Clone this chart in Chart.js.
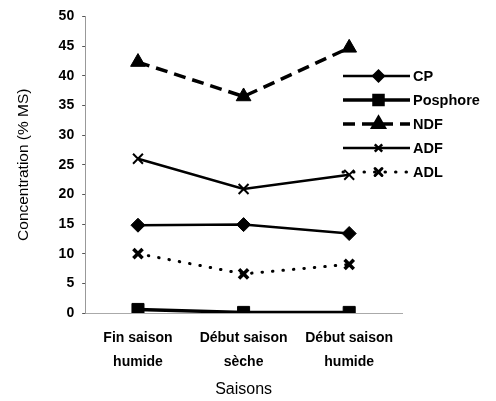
<!DOCTYPE html>
<html>
<head>
<meta charset="utf-8">
<script src="https://cdn.jsdelivr.net/npm/chart.js@4/dist/chart.umd.min.js"></script>
<style>
    html, body { margin: 0; padding: 0; background: #fff; }
    #wrap { width: 496px; height: 401px; }
</style>
</head>
<body>
<div id="wrap"><canvas id="chart"></canvas></div>
<script>
// Data
const saisons = [['Fin saison', 'humide'], ['Début saison', 'sèche'], ['Début saison', 'humide']];
const cp = [14.8, 14.9, 13.4];
const phosphore = [0.6, 0.1, 0.1];
const ndf = [42.3, 36.5, 44.7];
const adf = [26.0, 20.9, 23.3];
const adl = [10.0, 6.6, 8.2];

const FONT = 'Liberation Sans, Arial, sans-serif';

// Legend drawn as line + marker, like the original office chart
const lineLegend = {
    id: 'lineLegend',
    afterDraw(chart) {
        const ctx = chart.ctx;
        const x0 = 343, x1 = 410, y0 = 76, step = 24;
        chart.data.datasets.forEach((ds, i) => {
            const y = y0 + i * step;
            ctx.save();
            ctx.strokeStyle = '#000';
            ctx.lineWidth = ds.borderWidth;
            ctx.lineCap = ds.borderCapStyle || 'butt';
            ctx.setLineDash(ds.borderDash || []);
            ctx.beginPath();
            ctx.moveTo(x0, y);
            ctx.lineTo(x1, y);
            ctx.stroke();
            ctx.setLineDash([]);
            ctx.fillStyle = '#000';
            ctx.strokeStyle = '#000';
            Chart.helpers.drawPoint(ctx, {
                pointStyle: ds.pointStyle,
                radius: ds.pointRadius * 0.75,
                borderWidth: ds.pointBorderWidth || 1,
                rotation: 0
            }, (x0 + x1) / 2 + 2, y);
            ctx.font = 'bold 14.5px ' + FONT;
            ctx.textBaseline = 'middle';
            ctx.fillText(ds.label, x1 + 3, y + 1);
            ctx.restore();
        });
    }
};

new Chart(document.getElementById('chart'), {
    type: 'line',
    data: {
        labels: saisons,
        datasets: [
            { label: 'CP', data: cp, borderColor: '#000', backgroundColor: '#000', borderWidth: 2.5,
              pointStyle: 'rectRot', pointRadius: 7, pointBorderWidth: 1 },
            { label: 'Posphore', data: phosphore, borderColor: '#000', backgroundColor: '#000', borderWidth: 3.5,
              pointStyle: 'rect', pointRadius: 8.5, pointBorderWidth: 1 },
            { label: 'NDF', data: ndf, borderColor: '#000', backgroundColor: '#000', borderWidth: 3.5, borderDash: [12, 7],
              pointStyle: 'triangle', pointRadius: 8.5, pointBorderWidth: 1 },
            { label: 'ADF', data: adf, borderColor: '#000', backgroundColor: '#000', borderWidth: 2.5,
              pointStyle: 'crossRot', pointRadius: 7, pointBorderWidth: 2 },
            { label: 'ADL', data: adl, borderColor: '#000', backgroundColor: '#000', borderWidth: 3, borderDash: [0.5, 10],
              borderCapStyle: 'round', pointStyle: 'crossRot', pointRadius: 6.5, pointBorderWidth: 3.5 }
        ]
    },
    options: {
        responsive: true,
        maintainAspectRatio: false,
        animation: false,
        layout: { padding: { top: 5, right: 94, left: 10, bottom: 2 } },
        plugins: { legend: { display: false }, tooltip: { enabled: false } },
        scales: {
            x: {
                offset: true,
                grid: { display: false, drawTicks: false },
                border: { color: '#aaa', dash: [3, 4], width: 1 },
                ticks: { color: '#000', padding: 13, maxRotation: 0, font: { family: FONT, size: 14, weight: 'bold', lineHeight: '24px' } },
                title: { display: true, text: 'Saisons', color: '#000', padding: { top: 4, bottom: 0 }, font: { family: FONT, size: 16 } },
                afterFit: (scale) => { scale.height = 86; }
            },
            y: {
                min: 0, max: 50,
                grid: { drawOnChartArea: false, tickLength: 3, color: '#555' },
                border: { color: '#999', width: 1 },
                ticks: { stepSize: 5, color: '#000', padding: 8, font: { family: FONT, size: 14, weight: 'bold' } },
                title: { display: true, text: 'Concentration (% MS)', color: '#000', padding: { bottom: 18 }, font: { family: FONT, size: 15.5 } }
            }
        }
    },
    plugins: [lineLegend]
});
</script>
</body>
</html>
